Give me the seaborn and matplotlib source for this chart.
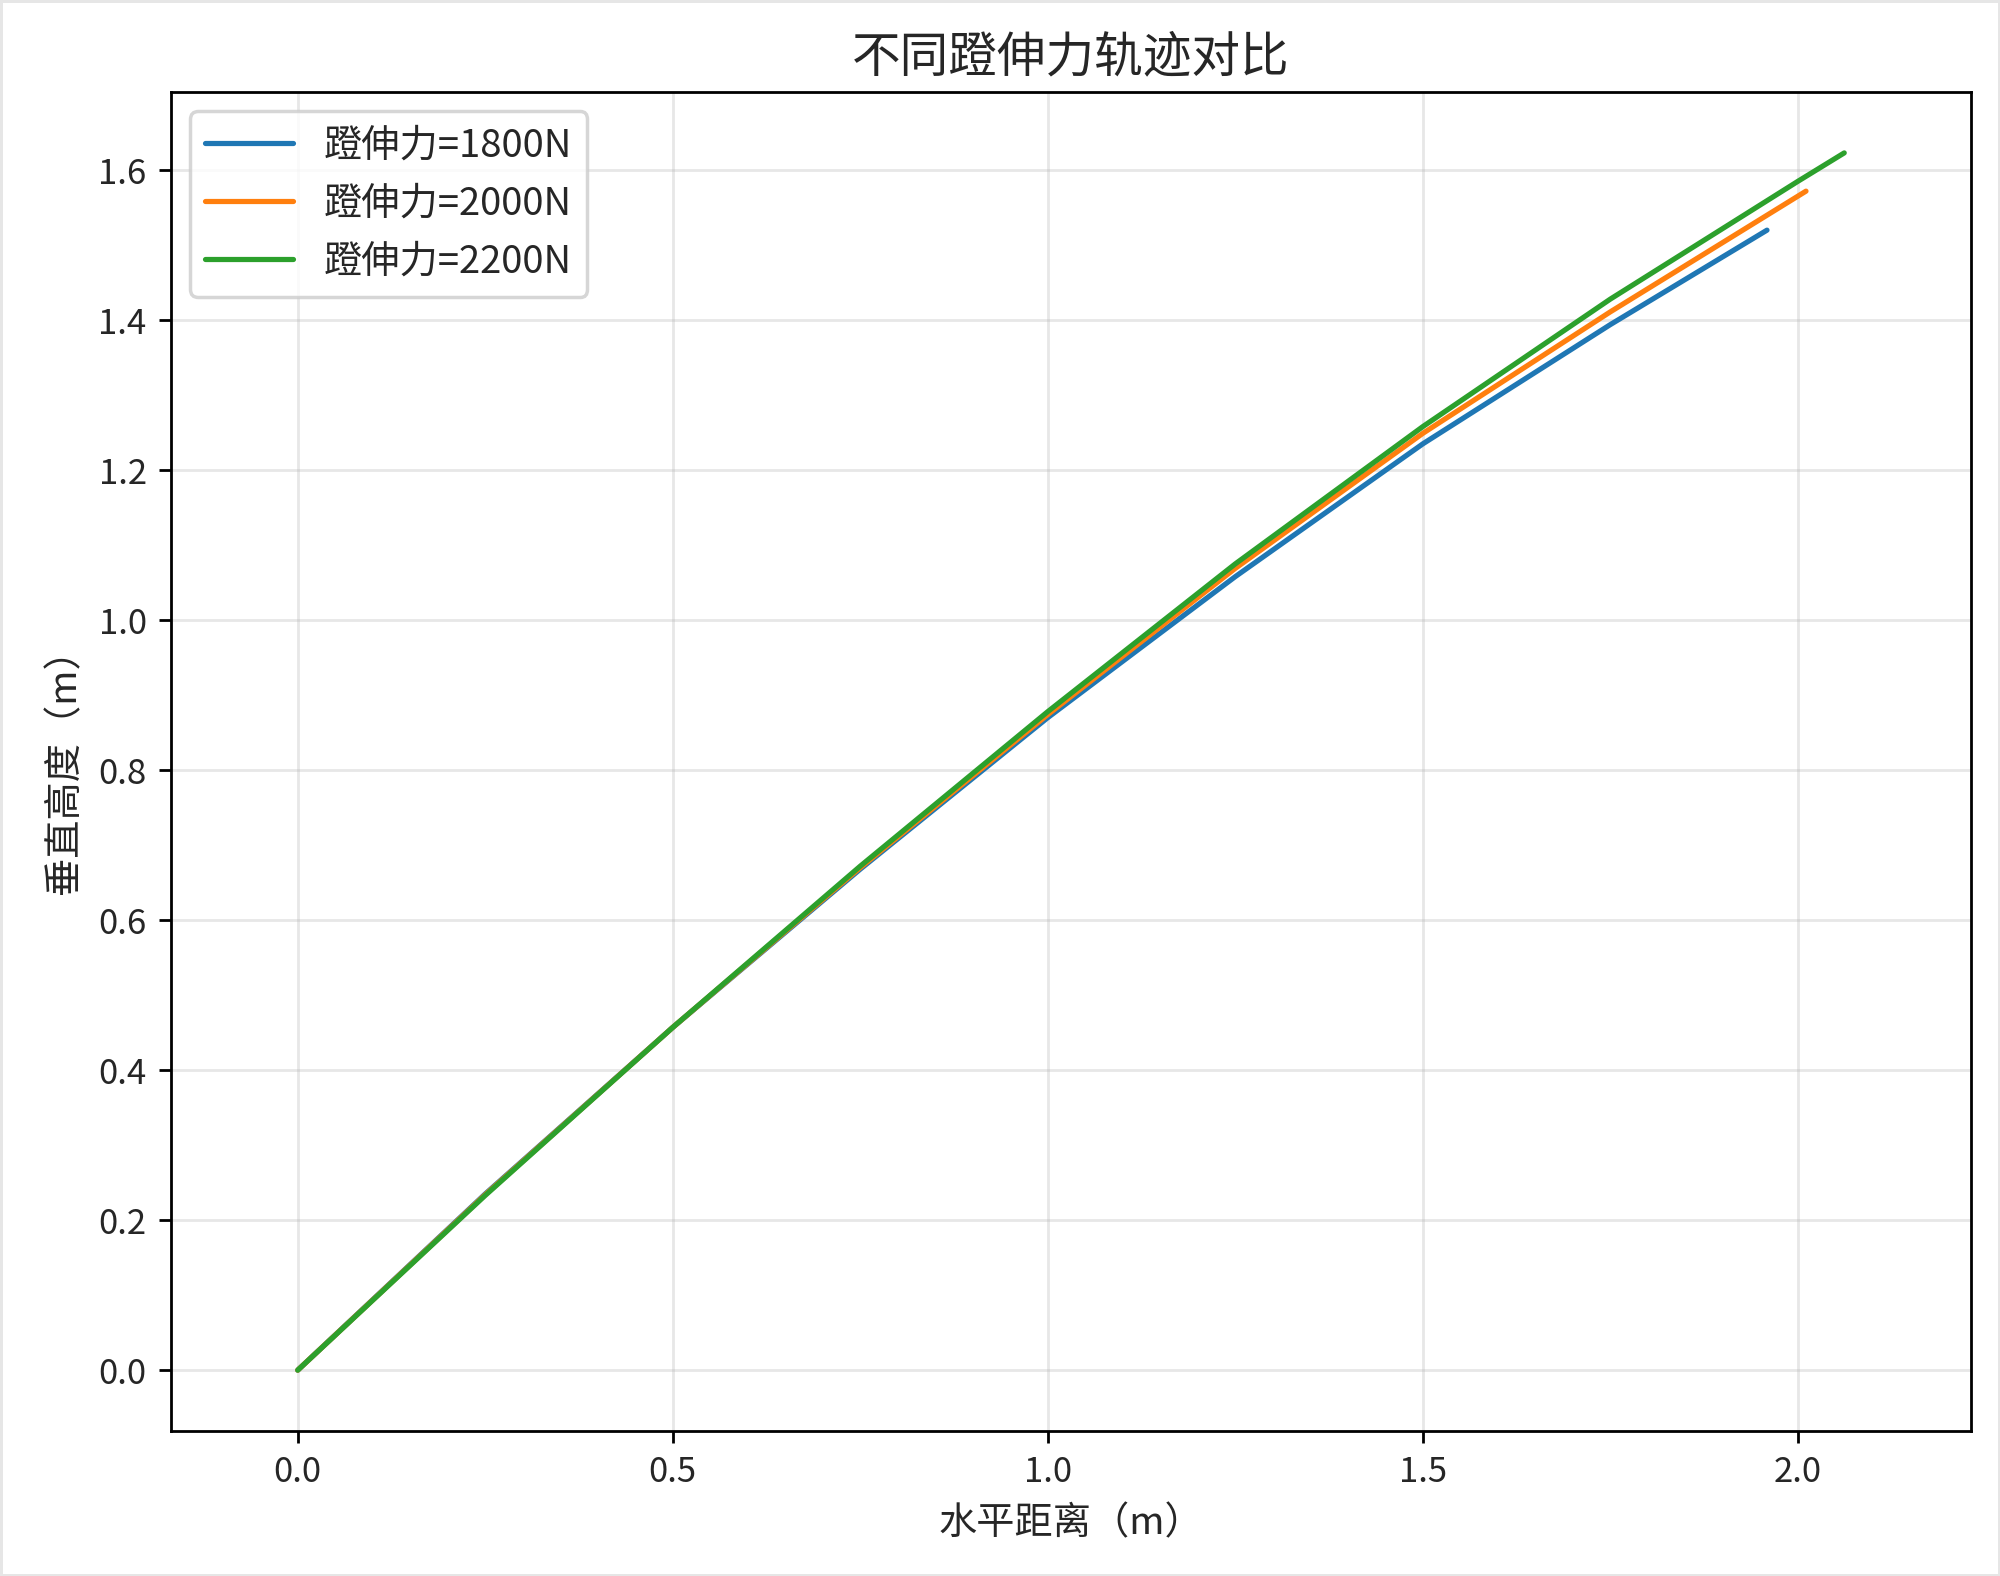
import numpy as np
import pandas as pd
import matplotlib
matplotlib.use("Agg")
import matplotlib.pyplot as plt
import seaborn as sns

# Data
labels = ["蹬伸力=1800N", "蹬伸力=2000N", "蹬伸力=2200N"]
x_1800 = [0.0, 0.25, 0.5, 0.75, 1.0, 1.25, 1.5, 1.75, 1.959]
y_1800 = [0.0, 0.235, 0.457, 0.668, 0.870, 1.058, 1.235, 1.394, 1.520]
x_2000 = [0.0, 0.25, 0.5, 0.75, 1.0, 1.25, 1.5, 1.75, 2.011]
y_2000 = [0.0, 0.234, 0.457, 0.670, 0.874, 1.069, 1.249, 1.411, 1.572]
x_2200 = [0.0, 0.25, 0.5, 0.75, 1.0, 1.25, 1.5, 1.75, 2.0, 2.062]
y_2200 = [0.0, 0.233, 0.457, 0.672, 0.878, 1.075, 1.258, 1.428, 1.585, 1.623]

frames = []
for lab, xs, ys in zip(labels, [x_1800, x_2000, x_2200], [y_1800, y_2000, y_2200]):
    frames.append(pd.DataFrame({"x": xs, "y": ys, "series": lab}))
df = pd.concat(frames, ignore_index=True)

sns.set_style("ticks")
plt.rcParams['font.family'] = ['Noto Sans CJK SC', 'DejaVu Sans']
plt.rcParams['axes.unicode_minus'] = False

fig = plt.figure(figsize=(8, 6.304), dpi=250)
fig.patch.set_edgecolor("#e6e6e6")
fig.patch.set_linewidth(1.0)
ax = fig.add_axes([0.0855, 0.092, 0.9, 0.8496])

palette = ["#1f77b4", "#ff7f0e", "#2ca02c"]
sns.lineplot(data=df, x="x", y="y", hue="series", palette=palette, sort=False,
             estimator=None, units="series", linewidth=1.5, ax=ax)

ax.set_aspect("equal", adjustable="datalim")
ax.grid(True, alpha=0.3, color="#b0b0b0", linewidth=0.8)
ax.set_yticks(np.arange(0, 1.61, 0.2))
ax.set_xticks(np.arange(0, 2.01, 0.5))
ax.tick_params(axis="both", labelsize=10, direction="out", length=3.5, width=0.8, color="black")
for s in ax.spines.values():
    s.set_color("black")
    s.set_linewidth(0.8)
    s.set_visible(True)

ax.set_xlabel("水平距离（m）", fontsize=11)
ax.set_ylabel("垂直高度（m）", fontsize=11)
ax.set_title("不同蹬伸力轨迹对比", fontsize=14)
leg = ax.legend(loc="upper left", fontsize=11, handlelength=2.3, title=None)

fig.savefig("out.png", dpi=250)
